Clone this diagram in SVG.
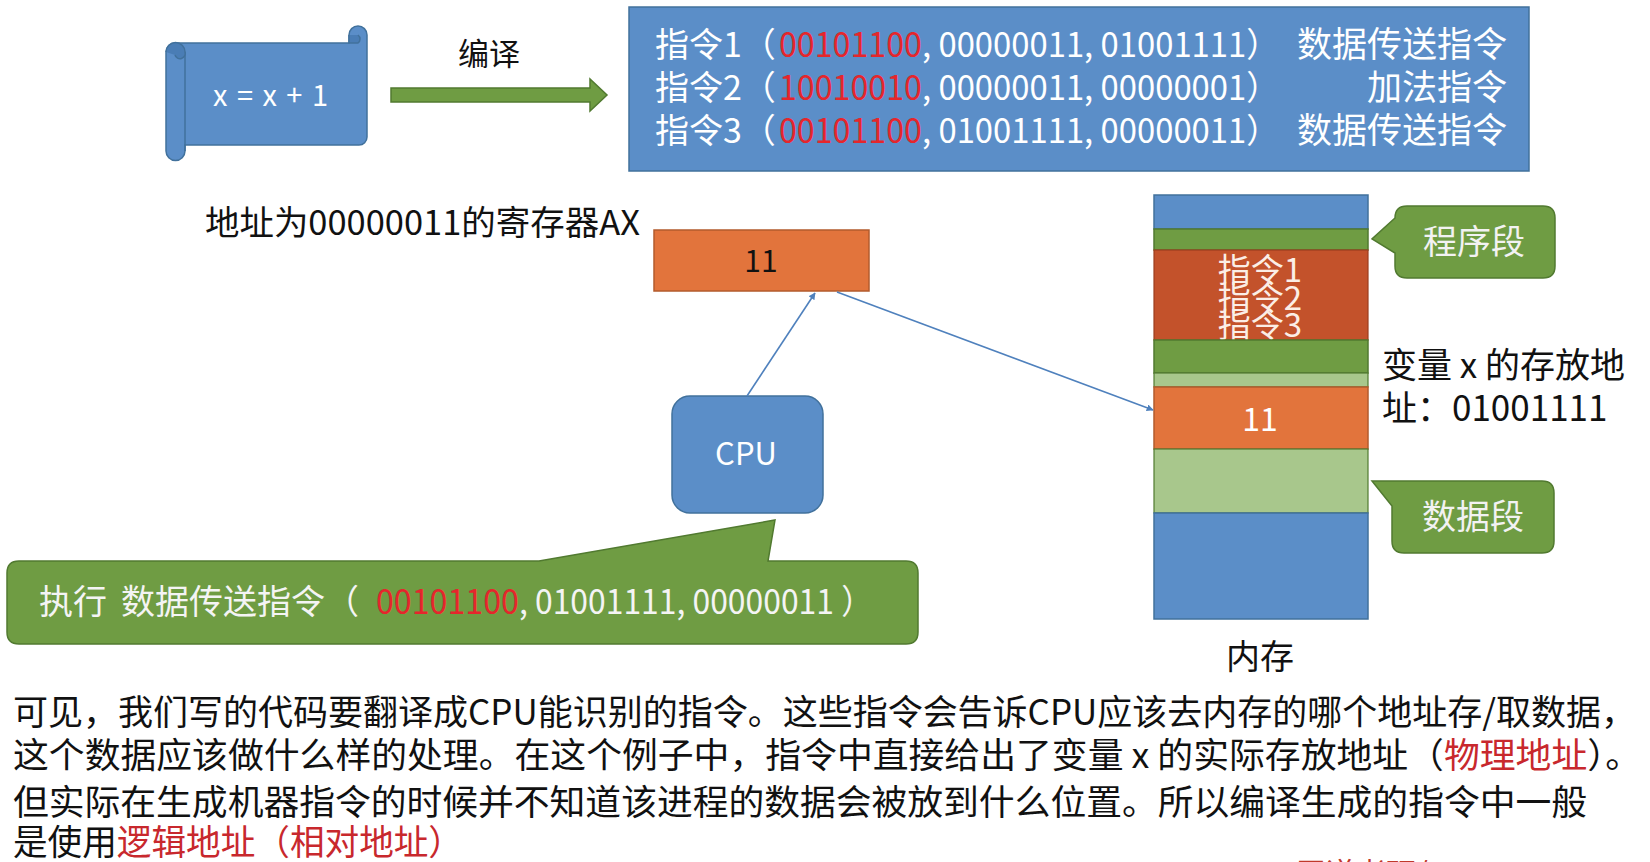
<svg xmlns="http://www.w3.org/2000/svg" width="1650" height="862" viewBox="0 0 1650 862">
<style>
text{font-family:"Noto Sans CJK SC","Noto Sans",sans-serif;}
.w{fill:#ffffff}
.k{fill:#111111}
.r{fill:#e5262c}
.pr{fill:#c8282d}
.blue{fill:#5b8ec8;stroke:#41719c;stroke-width:1.5}
.grn{fill:#6f9c43;stroke:#517a30;stroke-width:1.5}
.lgr{fill:#a8c78c;stroke:#517a30;stroke-width:1.2}
.org{fill:#e2743c;stroke:#b35b2c;stroke-width:1.5}
.dorg{fill:#c3522b;stroke:#9c3f1f;stroke-width:1.2}
.conn{stroke:#4f81bd;stroke-width:1.6;fill:none;marker-end:url(#ah)}
</style>
<defs>
<marker id="ah" viewBox="0 0 10 10" refX="9" refY="5" markerWidth="7" markerHeight="7" markerUnits="userSpaceOnUse" orient="auto">
<path d="M0,0 L10,5 L0,10 Z" fill="#4f81bd"/>
</marker>
<clipPath id="instClip"><rect x="1154" y="250" width="214" height="90"/></clipPath>
</defs>
<rect width="1650" height="862" fill="#ffffff"/>

<g id="scroll">
<path class="blue" d="M175,43 L349,43 L349,35 A9,9 0 0 1 367,35 L367,137 A8,8 0 0 1 359,145 L185,145 L185,151 A9.5,9.5 0 0 1 166,151 L166,52 A9.5,9.5 0 0 1 175,43 Z"/>
<path d="M185,52 L185,151" stroke="#41719c" stroke-width="1.5" fill="none"/>
<path d="M166,52 A9.5,9.5 0 0 1 185,52 A5,5 0 0 1 175,55" stroke="#41719c" stroke-width="1.5" fill="#4a7db5"/>
<path d="M349,35 L349,43 L358,43 A5,5 0 0 0 358,35" stroke="#41719c" stroke-width="1.5" fill="#4a7db5"/>
<text x="213" y="106" font-size="29" class="w" textLength="115" lengthAdjust="spacing">x = x + 1</text>
</g>

<g id="compile-arrow">
<polygon class="grn" points="391,88 590,88 590,79 607,95 590,111 590,102 391,102"/>
<text x="489" y="65" font-size="31" text-anchor="middle" class="k">编译</text>
</g>

<g id="instructions">
<rect class="blue" x="629" y="7" width="900" height="164"/>
<text y="57" font-size="34" class="w"><tspan x="655">指令1（</tspan><tspan x="779" class="r" textLength="143" lengthAdjust="spacingAndGlyphs">00101100</tspan><tspan x="922" textLength="357" lengthAdjust="spacingAndGlyphs">, 00000011, 01001111）</tspan></text>
<text x="1507" y="57" font-size="35" text-anchor="end" class="w">数据传送指令</text>
<text y="100" font-size="34" class="w"><tspan x="655">指令2（</tspan><tspan x="779" class="r" textLength="143" lengthAdjust="spacingAndGlyphs">10010010</tspan><tspan x="922" textLength="357" lengthAdjust="spacingAndGlyphs">, 00000011, 00000001）</tspan></text>
<text x="1507" y="100" font-size="35" text-anchor="end" class="w">加法指令</text>
<text y="143" font-size="34" class="w"><tspan x="655">指令3（</tspan><tspan x="779" class="r" textLength="143" lengthAdjust="spacingAndGlyphs">00101100</tspan><tspan x="922" textLength="357" lengthAdjust="spacingAndGlyphs">, 01001111, 00000011）</tspan></text>
<text x="1507" y="143" font-size="35" text-anchor="end" class="w">数据传送指令</text>
</g>

<g id="register">
<text x="205" y="235" font-size="34" class="k" textLength="435" lengthAdjust="spacingAndGlyphs">地址为00000011的寄存器AX</text>
<rect class="org" x="654" y="230" width="215" height="61"/>
<text x="761" y="272" font-size="30" text-anchor="middle" class="k">11</text>
</g>

<g id="cpu">
<rect class="blue" x="672" y="396" width="151" height="117" rx="18" ry="18"/>
<text x="746" y="465" font-size="31" text-anchor="middle" class="w">CPU</text>
</g>

<g id="memory">
<rect class="blue" x="1154" y="195" width="214" height="34"/>
<rect class="grn" x="1154" y="229" width="214" height="21"/>
<rect class="dorg" x="1154" y="250" width="214" height="90"/>
<g clip-path="url(#instClip)" fill="#fbeee6" font-size="33" text-anchor="middle">
<text x="1260" y="282">指令1</text>
<text x="1260" y="310">指令2</text>
<text x="1260" y="337">指令3</text>
</g>
<rect class="grn" x="1154" y="340" width="214" height="33"/>
<rect class="lgr" x="1154" y="373" width="214" height="14"/>
<rect class="org" x="1154" y="387" width="214" height="62"/>
<text x="1260" y="431" font-size="32" text-anchor="middle" class="w">11</text>
<rect class="lgr" x="1154" y="449" width="214" height="64"/>
<rect class="blue" x="1154" y="513" width="214" height="106"/>
<text x="1260" y="669" font-size="34" text-anchor="middle" class="k">内存</text>
</g>

<g id="var-address">
<text x="1382" y="378" font-size="35" class="k">变量 x 的存放地</text>
<text x="1382" y="421" font-size="35" class="k">址：01001111</text>
</g>

<g id="program-segment">
<path class="grn" d="M1407,206 L1543,206 Q1555,206 1555,218 L1555,266 Q1555,278 1543,278 L1407,278 Q1395,278 1395,266 L1395,253 L1372,239 L1395,218 Q1395,206 1407,206 Z"/>
<text x="1474" y="254" font-size="34" text-anchor="middle" fill="#f2f2f2">程序段</text>
</g>

<g id="data-segment">
<path class="grn" d="M1372,481 L1542,481 Q1554,481 1554,493 L1554,541 Q1554,553 1542,553 L1404,553 Q1392,553 1392,541 L1392,506 Z"/>
<text x="1473" y="529" font-size="34" text-anchor="middle" fill="#f2f2f2">数据段</text>
</g>

<g id="exec-callout">
<path class="grn" d="M19,561 L539,561 L775,520 L768,561 L906,561 Q918,561 918,573 L918,632 Q918,644 906,644 L19,644 Q7,644 7,632 L7,573 Q7,561 19,561 Z"/>
<text y="614" font-size="34" fill="#f4f4f4"><tspan x="39">执行</tspan><tspan x="121">数据传送指令（</tspan><tspan x="376" class="r" textLength="143" lengthAdjust="spacingAndGlyphs">00101100</tspan><tspan x="519" textLength="354" lengthAdjust="spacingAndGlyphs">, 01001111, 00000011 ）</tspan></text>
</g>

<g id="connectors">
<line class="conn" x1="747" y1="396" x2="815" y2="293"/>
<line class="conn" x1="837" y1="292" x2="1153" y2="410"/>
</g>

<g id="paragraph" font-size="35" class="k">
<text x="13" y="725" textLength="1623" lengthAdjust="spacingAndGlyphs">可见，我们写的代码要翻译成CPU能识别的指令。这些指令会告诉CPU应该去内存的哪个地址存/取数据，</text>
<text x="13" y="768" textLength="1628" lengthAdjust="spacingAndGlyphs">这个数据应该做什么样的处理。在这个例子中，指令中直接给出了变量 x 的实际存放地址（<tspan class="pr">物理地址</tspan>）。</text>
<text x="13" y="815" textLength="1574" lengthAdjust="spacingAndGlyphs">但实际在生成机器指令的时候并不知道该进程的数据会被放到什么位置。所以编译生成的指令中一般</text>
<text x="13" y="855" textLength="450" lengthAdjust="spacingAndGlyphs">是使用<tspan class="pr">逻辑地址（相对地址）</tspan></text>
</g>

<g id="watermark">
<text x="1296" y="884" font-size="30" fill="#c0392b">王道考研/CSKAOYAN.COM</text>
</g>
</svg>
